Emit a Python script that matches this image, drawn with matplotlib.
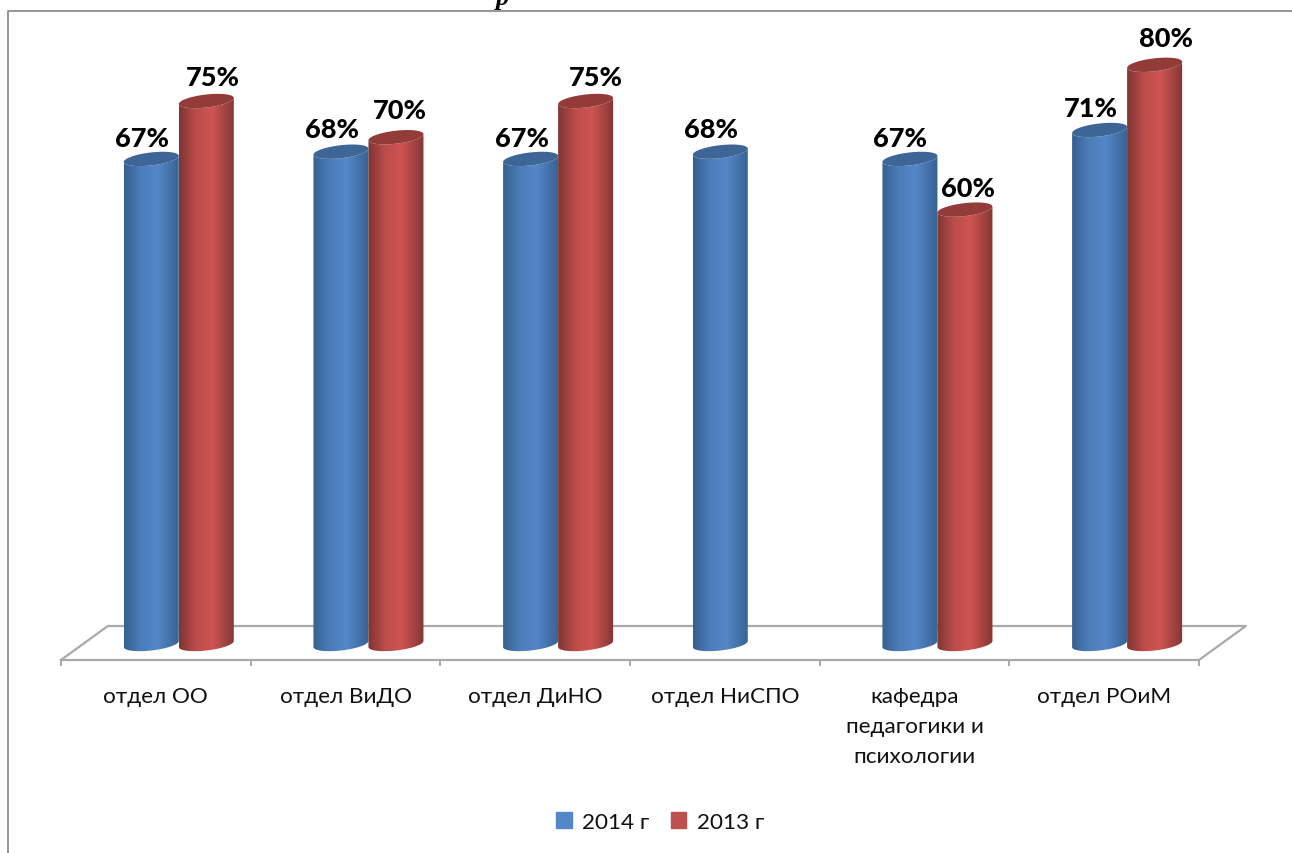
import numpy as np
import matplotlib
matplotlib.use('Agg')
import matplotlib.pyplot as plt
from matplotlib.lines import Line2D
from matplotlib.patches import Patch, PathPatch
from matplotlib.path import Path

W, H = 1292, 854

categories = ['отдел ОО', 'отдел ВиДО', 'отдел ДиНО', 'отдел НиСПО',
              'кафедра\nпедагогики и\nпсихологии', 'отдел РОиМ']
vals_2014 = [67, 68, 67, 68, 67, 71]
vals_2013 = [75, 70, 75, np.nan, 60, 80]

# label nudges in pixels, these labels are not placed consistently in the source
dx_2014 = [-9, -9, -9, -9, -10, -9]
dx_2013 = [7, 4, 10, 0, 3, 11]
dy_2014 = [21, 23, 21, 23, 21, 22]
dy_2013 = [24, 27, 24, 0, 22, 27]

BLUE = ('#35608f', '#5487c8', '#3d6697')
RED = ('#7f3533', '#cf5452', '#933b39')
GREY = '#a9a9a9'

plt.rcParams['font.family'] = ['Lato', 'Open Sans', 'DejaVu Sans']

fig = plt.figure(figsize=(W / 100, H / 100), dpi=100, facecolor='white')
ax = fig.add_axes([61 / W, 1 - 661 / H, 1138 / W, 641 / H])
px_per_pct = 7.24
ylims = (-16 / px_per_pct, 625 / px_per_pct)
ax.set_xlim(-0.5, 5.5)
ax.set_ylim(*ylims)
ax.patch.set_alpha(0)

for s in ['top', 'left', 'right']:
    ax.spines[s].set_visible(False)
ax.spines['bottom'].set_color(GREY)
ax.spines['bottom'].set_linewidth(1.6)
ax.set_yticks([])
ax.set_xticks(range(6))
ax.set_xticklabels(categories, fontsize=16.2, color='#111111', linespacing=1.62, va='top')
ax.tick_params(axis='x', which='major', length=0, pad=19)
ax.set_xticks(np.arange(-0.5, 6), minor=True)
ax.tick_params(axis='x', which='minor', length=4.5, width=1.4, color=GREY)

# floor of the 3d plot
y0 = ylims[0]
back_y = y0 + 34 / px_per_pct
depth = 0.247
ax.plot([-0.5, -0.5 + depth, 5.5 + depth, 5.5], [y0, back_y, back_y, y0],
        color=GREY, lw=1.6, clip_on=False, zorder=1)

cyl_w = 0.29
x_shift = 0.121
ry = 6.5 / px_per_pct
tilt = 0.11 * (1 / px_per_pct) * (1138 / 6)  # pct per category unit


def draw_cylinder(xc, top, colors, z):
    left, right = xc - cyl_w / 2, xc + cyl_w / 2
    t = np.linspace(0, np.pi, 60)
    ex = xc + cyl_w / 2 * np.cos(t)
    # front of the bottom rim, back along the top rim
    bottom_x = ex[::-1]
    bottom_y = 0 - ry * np.sin(t) + tilt * (bottom_x - xc)
    top_x = ex
    top_y = top - ry * np.sin(t) + tilt * (top_x - xc)
    verts = np.vstack([np.column_stack([bottom_x, bottom_y]),
                       np.column_stack([top_x, top_y]),
                       [[bottom_x[0], bottom_y[0]]]])
    body = PathPatch(Path(verts), fc='none', ec='none', zorder=z)
    ax.add_patch(body)

    pos = np.array([0, 0.3, 0.6, 1.0])
    u = np.linspace(0, 1, 120)
    c0 = np.array(matplotlib.colors.to_rgb(colors[0]))
    c1 = np.array(matplotlib.colors.to_rgb(colors[1]))
    weight = np.interp(u, pos, [0, 0.75, 1, 0.05])
    grad = c0[None, :] + (c1 - c0)[None, :] * weight[:, None]
    im = ax.imshow(grad[None, :, :], extent=[left, right, -3, top + 3],
                   aspect='auto', zorder=z, interpolation='bilinear')
    im.set_clip_path(body)

    # cap
    t2 = np.linspace(0, 2 * np.pi, 100)
    cx = xc + cyl_w / 2 * np.cos(t2)
    cy = top + ry * np.sin(t2) + tilt * (cx - xc)
    ax.fill(cx, cy, color=colors[2], lw=0, zorder=z + 0.1)


for i in range(6):
    x_blue = i + x_shift - cyl_w / 2
    x_red = i + x_shift + cyl_w / 2
    draw_cylinder(x_blue, vals_2014[i], BLUE, 3)
    ax.annotate(f'{vals_2014[i]}%', (x_blue, vals_2014[i]),
                xytext=(dx_2014[i], dy_2014[i]), textcoords='offset pixels',
                ha='center', va='center', fontsize=19.5, fontweight='black',
                color='black', zorder=8, annotation_clip=False)
    if not np.isnan(vals_2013[i]):
        draw_cylinder(x_red, vals_2013[i], RED, 4)
        ax.annotate(f'{vals_2013[i]:.0f}%', (x_red, vals_2013[i]),
                    xytext=(dx_2013[i], dy_2013[i]), textcoords='offset pixels',
                    ha='center', va='center', fontsize=19.5, fontweight='black',
                    color='black', zorder=8, annotation_clip=False)

ax.set_xlim(-0.5, 5.5)
ax.set_ylim(*ylims)

handles = [Patch(color=BLUE[1], label='2014 г'), Patch(color='#c0504d', label='2013 г')]
fig.legend(handles=handles, loc='center', bbox_to_anchor=(660 / W, 1 - 823 / H), ncol=2,
           frameon=False, fontsize=16.2, handlelength=0.7, handleheight=0.7,
           handletextpad=0.45, columnspacing=0.95, labelcolor='#111111')

# outer frame of the chart, cut off by the page on the right and at the bottom
fig.add_artist(Line2D([7.5 / W, 7.5 / W, 1], [0, 1 - 12 / H, 1 - 12 / H],
                      color='#8c8c8c', lw=1.3, transform=fig.transFigure))

# tail of the caption from the page above the chart
fig.text(503 / W, 1 - 5 / H, 'р', family='Liberation Serif', style='italic', fontweight='bold',
         fontsize=19, ha='center', va='baseline', color='black')

fig.savefig('out.png', dpi=100, facecolor='white')
